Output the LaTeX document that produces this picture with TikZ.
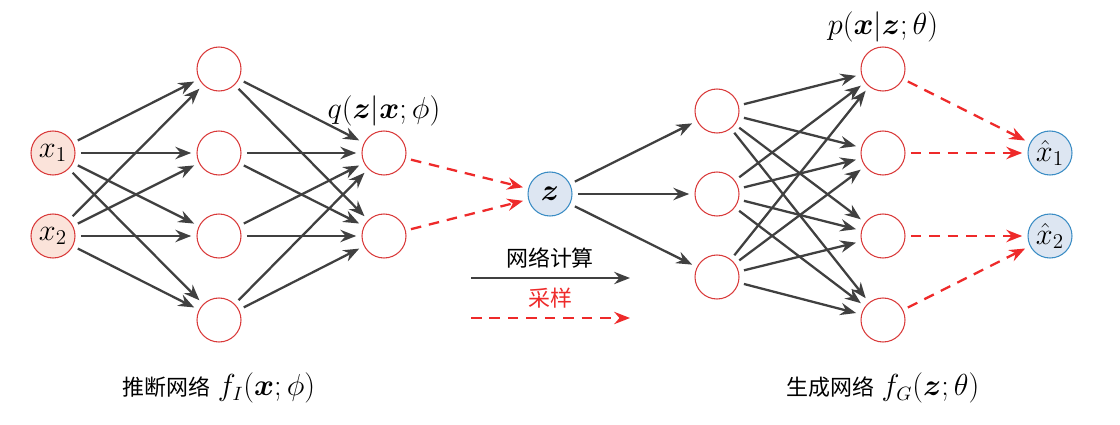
\documentclass[tikz,border=0pt]{standalone}
\usepackage{fontspec}
\usepackage{amsmath,bm}
\newfontfamily\cjk{Noto Sans CJK SC}
\usetikzlibrary{arrows.meta}
\definecolor{nred}{HTML}{D93A3A}
\definecolor{nfill}{HTML}{FBE3DA}
\definecolor{zblue}{HTML}{3A8CC4}
\definecolor{zfill}{HTML}{DDE6F2}
\definecolor{egray}{HTML}{404040}
\definecolor{sred}{HTML}{EE2A2A}
\newcommand{\mlab}{\fontsize{16}{18}\selectfont}
\newcommand{\nlab}{\fontsize{18}{20}\selectfont}
\tikzset{
  neuron/.style={circle, draw=nred, line width=0.6pt, minimum size=0.88cm, inner sep=0pt},
  innode/.style={neuron, fill=nfill},
  latent/.style={circle, draw=zblue, fill=zfill, line width=0.6pt, minimum size=0.88cm, inner sep=0pt},
  edge/.style={draw=egray, line width=1.3pt, -{Stealth[length=9pt,width=7pt,inset=3pt]}, shorten <=3pt, shorten >=3pt},
  sample/.style={draw=sred, line width=1.3pt, dash pattern=on 6pt off 4.5pt, -{Stealth[length=9pt,width=7pt,inset=3pt]}, shorten <=3pt, shorten >=3pt},
}
\begin{document}
\begin{tikzpicture}[font=\fontsize{12.5}{15}\selectfont]
    \useasboundingbox (0, 0) rectangle (22.4, 8.48);

    %% encoder
    \node[innode] at(1.06, 5.42)(x1){\nlab$x_1$};
    \node[innode] at(1.06, 3.76)(x2){\nlab$x_2$};

    \node[neuron] at(4.38, 7.10)(h1){};
    \node[neuron] at(4.38, 5.42)(h2){};
    \node[neuron] at(4.38, 3.76)(h3){};
    \node[neuron] at(4.38, 2.08)(h4){};

    \node[neuron] at(7.68, 5.42)(q1){};
    \node[neuron] at(7.68, 3.76)(q2){};
    \node[above=-1pt] at(q1.north)(qlab){\mlab$q(\bm{z}|\bm{x};\phi)$};

    %% latent
    \node[latent] at(11.0, 4.60)(z){\nlab$\bm{z}$};

    %% decoder
    \node[neuron] at(14.34, 6.26)(d1){};
    \node[neuron] at(14.34, 4.60)(d2){};
    \node[neuron] at(14.34, 2.94)(d3){};

    \node[neuron] at(17.66, 7.10)(o1){};
    \node[neuron] at(17.66, 5.42)(o2){};
    \node[neuron] at(17.66, 3.76)(o3){};
    \node[neuron] at(17.66, 2.08)(o4){};
    \node[above=-1pt] at(o1.north)(plab){\mlab$p(\bm{x}|\bm{z};\theta)$};

    \node[latent] at(21.0, 5.42)(y1){\nlab$\hat{x}_1$};
    \node[latent] at(21.0, 3.76)(y2){\nlab$\hat{x}_2$};

    %% edges
    \draw[edge] (x1) -- (h1); \draw[edge] (x1) -- (h2); \draw[edge] (x1) -- (h3); \draw[edge] (x1) -- (h4);
    \draw[edge] (x2) -- (h1); \draw[edge] (x2) -- (h2); \draw[edge] (x2) -- (h3); \draw[edge] (x2) -- (h4);

    \draw[edge] (h1) -- (q1); \draw[edge] (h1) -- (q2);
    \draw[edge] (h2) -- (q1); \draw[edge] (h2) -- (q2);
    \draw[edge] (h3) -- (q1); \draw[edge] (h3) -- (q2);
    \draw[edge] (h4) -- (q1); \draw[edge] (h4) -- (q2);

    \draw[sample] (q1) -- (z);
    \draw[sample] (q2) -- (z);

    \draw[edge] (z) -- (d1); \draw[edge] (z) -- (d2); \draw[edge] (z) -- (d3);

    \draw[edge] (d1) -- (o1); \draw[edge] (d1) -- (o2); \draw[edge] (d1) -- (o3); \draw[edge] (d1) -- (o4);
    \draw[edge] (d2) -- (o1); \draw[edge] (d2) -- (o2); \draw[edge] (d2) -- (o3); \draw[edge] (d2) -- (o4);
    \draw[edge] (d3) -- (o1); \draw[edge] (d3) -- (o2); \draw[edge] (d3) -- (o3); \draw[edge] (d3) -- (o4);

    \draw[sample] (o1) -- (y1);
    \draw[sample] (o2) -- (y1);
    \draw[sample] (o3) -- (y2);
    \draw[sample] (o4) -- (y2);

    %% legend
    \coordinate (la) at(9.42, 2.92);
    \coordinate (lb) at(12.6, 2.92);
    \coordinate (sa) at(9.42, 2.12);
    \coordinate (sb) at(12.6, 2.12);
    \node at(11.0, 3.32)(calc){\cjk 网络计算};
    \node[text=sred] at(11.0, 2.52)(samp){\cjk 采样};
    \draw[edge, shorten <=0pt, shorten >=0pt] (la) -- (lb);
    \draw[sample, shorten <=0pt, shorten >=0pt] (sa) -- (sb);

    %% captions
    \node at(4.38, 0.72)(enc){{\cjk 推断网络}\ \mlab$f_I(\bm{x};\phi)$};
    \node at(17.66, 0.72)(dec){{\cjk 生成网络}\ \mlab$f_G(\bm{z};\theta)$};
\end{tikzpicture}
\end{document}
